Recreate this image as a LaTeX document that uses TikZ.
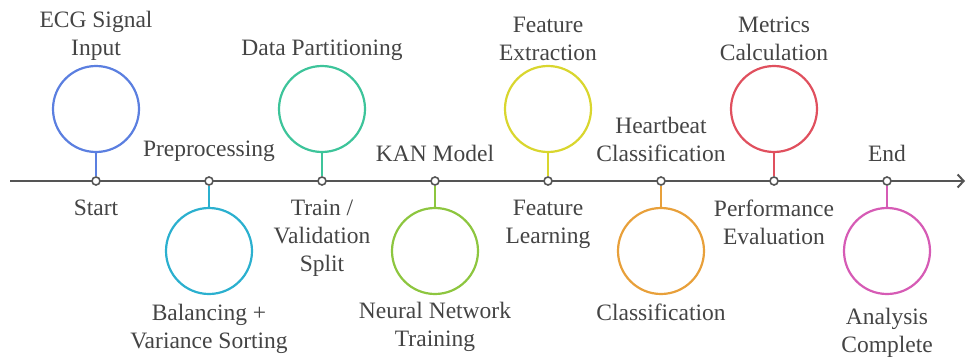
\documentclass[tikz,border=0pt]{standalone}
\usepackage{fontspec}
\setmainfont{Liberation Serif}
\usepackage{tikz}
\usetikzlibrary{positioning,arrows.meta}
\usepackage{xcolor}
\definecolor{axisgray}{HTML}{555555}
\definecolor{textgray}{HTML}{444444}
\definecolor{cblue}{HTML}{5B7FE0}
\definecolor{ccyan}{HTML}{2BB0CF}
\definecolor{cgreen}{HTML}{3DC49A}
\definecolor{clime}{HTML}{8DC63F}
\definecolor{cyellow}{HTML}{D9D62E}
\definecolor{corange}{HTML}{E8A03A}
\definecolor{cred}{HTML}{E0505E}
\definecolor{cpink}{HTML}{D65BB5}
\tikzset{
    axis/.style={draw=axisgray, line width=2pt, -{Straight Barb[length=6pt, width=13pt]}},
    point/.style={draw=axisgray, circle, fill=white, line width=1.6pt, minimum size=8pt, inner sep=0pt},
    event/.style={draw, circle, fill=white, line width=2.2pt, minimum size=86pt, inner sep=0pt},
    stem/.style={line width=2pt},
    caption/.style={text=textgray, align=center, inner sep=0pt, font=\rmfamily\fontsize{23.5}{28}\selectfont}
}
\begin{document}
\begin{tikzpicture}[x=1pt, y=-1pt]
        \useasboundingbox (0,0) rectangle (966,356);

        % Timeline
        \coordinate (tstart) at (10,181);
        \coordinate (tend) at (965,181);
        \draw[axis] (tstart) -- (tend);

        % Points on the timeline
        \node[point] (p1) at (96,181) {};
        \node[point] (p2) at (209,181) {};
        \node[point] (p3) at (322,181) {};
        \node[point] (p4) at (435,181) {};
        \node[point] (p5) at (548,181) {};
        \node[point] (p6) at (661,181) {};
        \node[point] (p7) at (774,181) {};
        \node[point] (p8) at (887,181) {};

        % Event circles
        \node[event, draw=cblue] (c1) at (96,109) {};
        \node[event, draw=ccyan] (c2) at (209,251) {};
        \node[event, draw=cgreen] (c3) at (322,109) {};
        \node[event, draw=clime] (c4) at (435,251) {};
        \node[event, draw=cyellow] (c5) at (548,109) {};
        \node[event, draw=corange] (c6) at (661,251) {};
        \node[event, draw=cred] (c7) at (774,109) {};
        \node[event, draw=cpink] (c8) at (887,251) {};

        % Stems
        \draw[stem, cblue] (c1) -- (p1);
        \draw[stem, ccyan] (c2) -- (p2);
        \draw[stem, cgreen] (c3) -- (p3);
        \draw[stem, clime] (c4) -- (p4);
        \draw[stem, cyellow] (c5) -- (p5);
        \draw[stem, corange] (c6) -- (p6);
        \draw[stem, cred] (c7) -- (p7);
        \draw[stem, cpink] (c8) -- (p8);

        % Titles
        \node[caption, above=4pt of c1] (t1) {ECG Signal\\Input};
        \node[caption, below=9pt of c2] (t2) {Balancing +\\Variance Sorting};
        \node[caption, above=4pt of c3] (t3) {Data Partitioning};
        \node[caption, below=7pt of c4] (t4) {Neural Network\\Training};
        \node[caption, above=4pt of c5] (t5) {Feature\\Extraction};
        \node[caption, below=9pt of c6] (t6) {Classification};
        \node[caption, above=4pt of c7] (t7) {Metrics\\Calculation};
        \node[caption, below=13pt of c8] (t8) {Analysis\\Complete};

        % Phase labels
        \node[caption, below=14pt of p1] (s1) {Start};
        \node[caption, above=14pt of p2] (s2) {Preprocessing};
        \node[caption, below=14pt of p3] (s3) {Train /\\Validation\\Split};
        \node[caption, above=14pt of p4] (s4) {KAN Model};
        \node[caption, below=14pt of p5] (s5) {Feature\\Learning};
        \node[caption, above=14pt of p6] (s6) {Heartbeat\\Classification};
        \node[caption, below=14pt of p7] (s7) {Performance\\Evaluation};
        \node[caption, above=14pt of p8] (s8) {End};
    \end{tikzpicture}
\end{document}
